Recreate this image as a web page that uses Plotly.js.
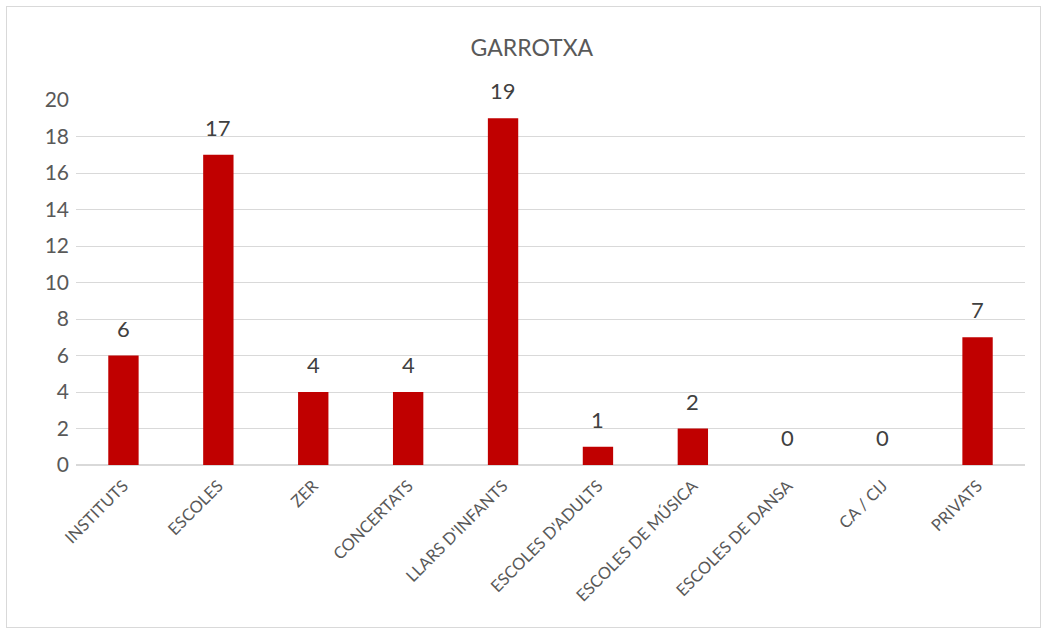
<!DOCTYPE html>
<html>
<head>
<meta charset="utf-8">
<script src="https://cdn.plot.ly/plotly-3.0.1.min.js"></script>
<style>
html,body{margin:0;padding:0;background:#fff;}
#wrap{position:relative;width:1047px;height:633px;}
#chart{position:absolute;left:0;top:0;width:1047px;height:633px;}
#frame{position:absolute;left:6px;top:6px;width:1033px;height:620px;border:1px solid #d9d9d9;pointer-events:none;}
</style>
</head>
<body>
<div id="wrap"><div id="chart"></div><div id="frame"></div></div>
<script>
const categories = ["INSTITUTS","ESCOLES","ZER","CONCERTATS","LLARS D'INFANTS","ESCOLES D'ADULTS","ESCOLES DE MÚSICA","ESCOLES DE DANSA","CA / CIJ","PRIVATS"];
const values = [6,17,4,4,19,1,2,0,0,7];
const yTicks = [0,2,4,6,8,10,12,14,16,18,20];

const FONT = "Lato, 'Open Sans', sans-serif";

const labels = categories.map((c, i) => ({
  x: c, y: values[i], xref: 'x', yref: 'y',
  text: String(values[i]), showarrow: false,
  yanchor: 'bottom', yshift: 12,
  font: {family: FONT, size: 22, color: '#404040'}
}));

Plotly.newPlot('chart', [{
  type: 'bar',
  x: categories,
  y: values,
  marker: {color: '#C00000'},
  hoverinfo: 'none'
}], {
  width: 1047,
  height: 633,
  margin: {l: 76, r: 22, t: 100, b: 168},
  paper_bgcolor: '#ffffff',
  plot_bgcolor: '#ffffff',
  bargap: 0.68,
  title: {text: 'GARROTXA', x: 0.508, xanchor: 'center', y: 0.925, yanchor: 'middle',
          font: {family: FONT, size: 23, color: '#595959'}},
  xaxis: {
    tickangle: -45,
    tickfont: {family: FONT, size: 16.5, color: '#595959'},
    showgrid: false,
    showline: false,
    ticks: '',
    ticklabelstandoff: 7,
    fixedrange: true
  },
  yaxis: {
    range: [0, 20],
    tickvals: yTicks,
    ticktext: yTicks.map(String),
    tickfont: {family: FONT, size: 21, color: '#595959'},
    gridcolor: '#d9d9d9',
    zeroline: true,
    zerolinecolor: '#d9d9d9',
    zerolinewidth: 1.5,
    showline: false,
    ticks: '',
    ticklabelstandoff: 6,
    fixedrange: true
  },
  annotations: labels,
  showlegend: false
}, {displayModeBar: false, staticPlot: true});
</script>
</body>
</html>
